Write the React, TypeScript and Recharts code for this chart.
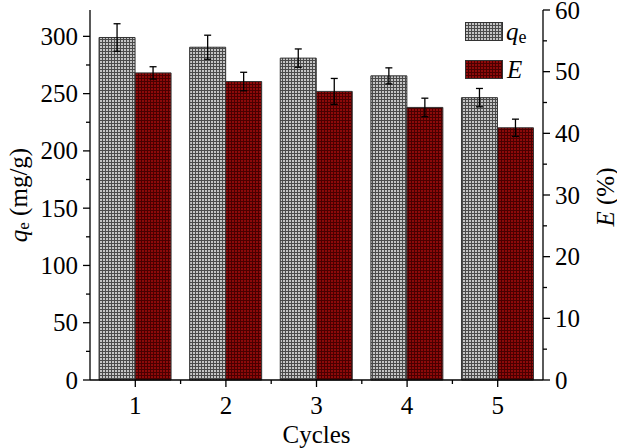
import React from 'react';
import { Bar, BarChart, ErrorBar, Legend, XAxis, YAxis } from 'recharts';

const cycles = ['1', '2', '3', '4', '5'];
const qeValues = [299, 290.5, 281, 265.5, 246.5];
const qeErrors = [12, 10.5, 8, 7, 8];
const effValues = [49.8, 48.4, 46.8, 44.2, 40.9];
const effErrors = [1.0, 1.5, 2.1, 1.5, 1.4];

const leftTicks = [0, 25, 50, 75, 100, 125, 150, 175, 200, 225, 250, 275, 300];
const rightTicks = [0, 5, 10, 15, 20, 25, 30, 35, 40, 45, 50, 55, 60];

const data = cycles.map((c, i) => ({
  cycle: c,
  qe: qeValues[i],
  qeErr: qeErrors[i],
  eff: effValues[i],
  effErr: effErrors[i],
}));

const FONT = 'Liberation Serif';
const FS = 25;
const W = 617;
const H = 448;
const LEFT_W = 90;
const RIGHT_W = 74;
const BAND = (W - LEFT_W - RIGHT_W) / cycles.length;

function LeftTick({ x, y, payload }: any) {
  const major = payload.value % 50 === 0;
  return (
    <g>
      <line x1={x} x2={x - (major ? 7 : 4)} y1={y} y2={y} stroke="#000" strokeWidth={1.3} />
      {major && (
        <text x={x - 12} y={y} dy={8.5} textAnchor="end" style={{ fontFamily: FONT, fontSize: FS }} fill="#000">
          {payload.value}
        </text>
      )}
    </g>
  );
}

function RightTick({ x, y, payload }: any) {
  const major = payload.value % 10 === 0;
  return (
    <g>
      <line x1={x} x2={x + (major ? 7 : 4)} y1={y} y2={y} stroke="#000" strokeWidth={1.3} />
      {major && (
        <text x={x + 12} y={y} dy={8.5} textAnchor="start" style={{ fontFamily: FONT, fontSize: FS }} fill="#000">
          {payload.value}
        </text>
      )}
    </g>
  );
}

function BottomTick({ x, y, payload, index }: any) {
  return (
    <g>
      <line x1={x} x2={x} y1={y} y2={y + 7} stroke="#000" strokeWidth={1.3} />
      {index < cycles.length - 1 && (
        <line x1={x + BAND / 2} x2={x + BAND / 2} y1={y} y2={y + 4} stroke="#000" strokeWidth={1.3} />
      )}
      <text x={x} y={y + 33.5} textAnchor="middle" style={{ fontFamily: FONT, fontSize: FS }} fill="#000">
        {payload.value}
      </text>
    </g>
  );
}

function LeftTitle({ viewBox }: any) {
  const cx = viewBox.x + 18;
  const cy = viewBox.y + viewBox.height / 2;
  return (
    <text x={cx} y={cy} transform={`rotate(-90, ${cx}, ${cy})`} textAnchor="middle" dominantBaseline="central" style={{ fontFamily: FONT, fontSize: FS }} fill="#000">
      <tspan fontStyle="italic">q</tspan>
      <tspan fontSize={17} dy={5}>e</tspan>
      <tspan dy={-5}> (mg/g)</tspan>
    </text>
  );
}

function RightTitle({ viewBox }: any) {
  const cx = viewBox.x + viewBox.width - 12;
  const cy = viewBox.y + viewBox.height / 2 + 2;
  return (
    <text x={cx} y={cy} transform={`rotate(-90, ${cx}, ${cy})`} textAnchor="middle" dominantBaseline="central" style={{ fontFamily: FONT, fontSize: FS }} fill="#000">
      <tspan fontStyle="italic">E</tspan>
      <tspan> (%)</tspan>
    </text>
  );
}

function BottomTitle({ viewBox }: any) {
  return (
    <text x={viewBox.x + viewBox.width / 2} y={443} textAnchor="middle" style={{ fontFamily: FONT, fontSize: FS }} fill="#000">
      Cycles
    </text>
  );
}

function LegendBox() {
  const row = { display: 'flex', alignItems: 'center', height: 38.5 } as const;
  return (
    <div style={{ fontFamily: FONT, fontSize: FS, color: '#000' }}>
      <div style={row}>
        <svg width={38} height={19} style={{ display: 'block' }}>
          <rect x={0.5} y={0.5} width={37} height={18} fill="url(#gridGray)" stroke="#333" />
        </svg>
        <span style={{ marginLeft: 3, lineHeight: 1 }}>
          <i>q</i>
          <span style={{ fontSize: 18, position: 'relative', top: 3 }}>e</span>
        </span>
      </div>
      <div style={row}>
        <svg width={38} height={19} style={{ display: 'block' }}>
          <rect x={0.5} y={0.5} width={37} height={18} fill="url(#gridRed)" stroke="#333" />
        </svg>
        <span style={{ marginLeft: 4, lineHeight: 1 }}>
          <i>E</i>
        </span>
      </div>
    </div>
  );
}

export default function App() {
  return (
    <div style={{ position: 'absolute', left: 0, top: 0, width: W, height: H, background: '#fff' }}>
      <BarChart
        width={W}
        height={H}
        data={data}
        margin={{ top: 10, right: 0, bottom: 0, left: 0 }}
        barCategoryGap="10%"
        barGap={0}
      >
        <defs>
          <pattern id="gridGray" width={3} height={3} patternUnits="userSpaceOnUse">
            <rect width={3} height={3} fill="#c4c4c4" />
            <path d="M0 0.5H3M0.5 0V3" stroke="#4a4a4a" strokeWidth={1} />
          </pattern>
          <pattern id="gridRed" width={3} height={3} patternUnits="userSpaceOnUse">
            <rect width={3} height={3} fill="#8e0a0a" />
            <path d="M0 0.5H3M0.5 0V3" stroke="#4a0000" strokeWidth={1} />
          </pattern>
        </defs>
        <XAxis
          dataKey="cycle"
          height={68}
          axisLine={{ stroke: '#000', strokeWidth: 1.3 }}
          tickLine={false}
          tickSize={0}
          tickMargin={0}
          tick={<BottomTick />}
          interval={0}
          label={<BottomTitle />}
        />
        <XAxis
          xAxisId="top"
          dataKey="cycle"
          orientation="top"
          height={0}
          tick={false}
          tickLine={false}
          axisLine={{ stroke: '#000', strokeWidth: 1.3 }}
        />
        <YAxis
          yAxisId="left"
          width={LEFT_W}
          domain={[0, 323]}
          ticks={leftTicks}
          interval={0}
          axisLine={{ stroke: '#000', strokeWidth: 1.3 }}
          tickLine={false}
          tickSize={0}
          tickMargin={0}
          tick={<LeftTick />}
          label={<LeftTitle />}
        />
        <YAxis
          yAxisId="right"
          orientation="right"
          width={RIGHT_W}
          domain={[0, 60]}
          ticks={rightTicks}
          interval={0}
          axisLine={{ stroke: '#000', strokeWidth: 1.3 }}
          tickLine={false}
          tickSize={0}
          tickMargin={0}
          tick={<RightTick />}
          label={<RightTitle />}
        />
        <Legend
          layout="horizontal"
          verticalAlign="middle"
          align="center"
          content={<LegendBox />}
          wrapperStyle={{ position: 'absolute', left: 465, top: 12, width: 80, height: 78 }}
        />
        <Bar yAxisId="left" dataKey="qe" fill="url(#gridGray)" stroke="#333" strokeWidth={1} isAnimationActive={false}>
          <ErrorBar dataKey="qeErr" width={3.5} stroke="#000" strokeWidth={1.3} />
        </Bar>
        <Bar yAxisId="right" dataKey="eff" fill="url(#gridRed)" stroke="#333" strokeWidth={1} isAnimationActive={false}>
          <ErrorBar dataKey="effErr" width={3.5} stroke="#000" strokeWidth={1.3} />
        </Bar>
      </BarChart>
    </div>
  );
}
